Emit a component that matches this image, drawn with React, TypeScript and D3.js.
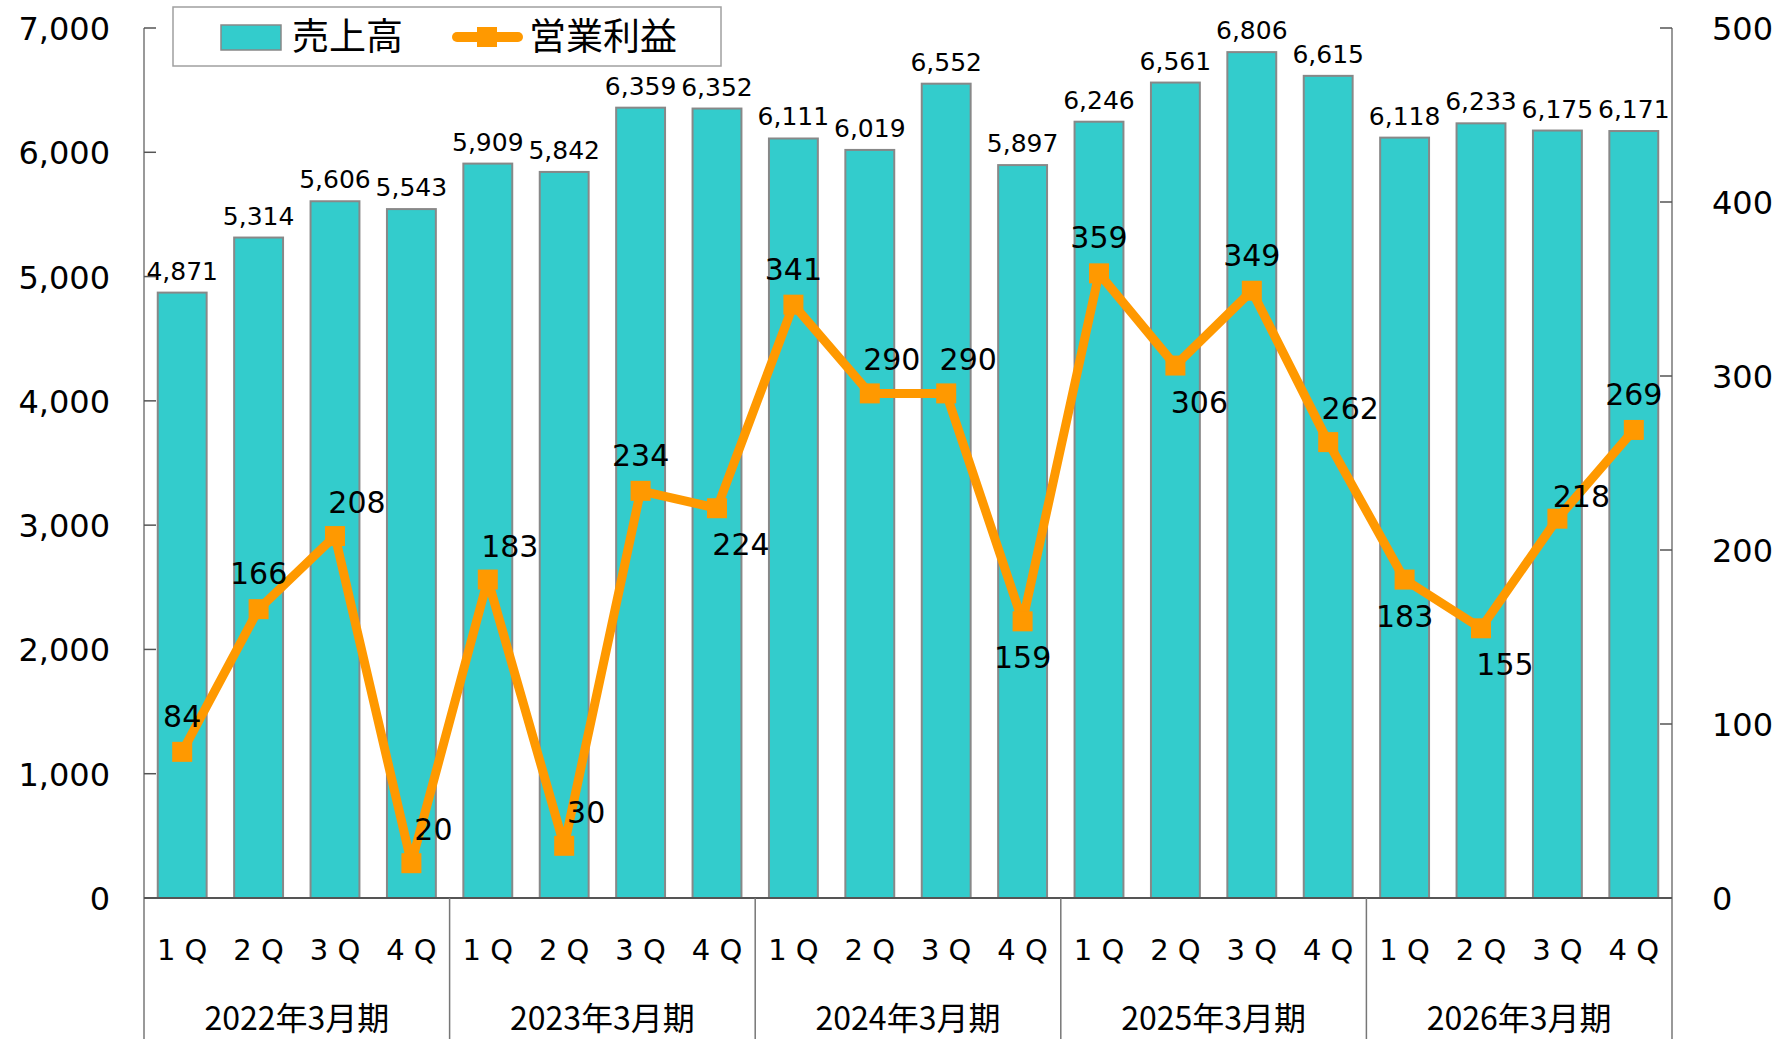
import React from 'react';
import * as d3 from 'd3';

// 四半期ごとの売上高（左軸）と営業利益（右軸）
const years = ['2022年3月期', '2023年3月期', '2024年3月期', '2025年3月期', '2026年3月期'];
const quarters = ['1 Q', '2 Q', '3 Q', '4 Q'];
const sales = [4871, 5314, 5606, 5543, 5909, 5842, 6359, 6352, 6111, 6019, 6552, 5897, 6246, 6561, 6806, 6615, 6118, 6233, 6175, 6171];
const profit = [84, 166, 208, 20, 183, 30, 234, 224, 341, 290, 290, 159, 359, 306, 349, 262, 183, 155, 218, 269];
// where each profit label sits relative to its marker
const profitLabelPlace = ['t', 't', 'tr', 'tr', 'tr', 'tr', 't', 'br', 't', 'tr', 'tr', 'b', 't', 'br', 't', 'tr', 'b', 'br', 'r', 't'];
const leftTicks = [0, 1000, 2000, 3000, 4000, 5000, 6000, 7000];
const rightTicks = [0, 100, 200, 300, 400, 500];

const W = 1775;
const H = 1039;
const left = 144;
const right = 1672;
const top = 28;
const bottom = 898;

const BAR = '#33CCCC';
const LINE = '#FF9900';
const NUM_FONT = 'Verdana, "DejaVu Sans", sans-serif';
const JP_FONT = '"Noto Sans CJK JP", sans-serif';

const keys = years.flatMap((y) => quarters.map((q) => `${y}-${q}`));

const offsets: Record<string, [number, number]> = {
  t: [0, -25],
  tr: [22, -23],
  b: [0, 47],
  br: [24, 47],
  r: [24, -12],
};

export default function App() {
  const x = d3.scaleBand<string>().domain(keys).range([left, right]).paddingInner(0.36).paddingOuter(0.18);
  const yL = d3.scaleLinear().domain([0, 7000]).range([bottom, top]);
  const yR = d3.scaleLinear().domain([0, 500]).range([bottom, top]);
  const fmt = d3.format(',');
  const step = x.step();
  const cx = (i: number) => (x(keys[i]) as number) + x.bandwidth() / 2;

  const line = d3
    .line<number>()
    .x((_, i) => cx(i))
    .y((d) => yR(d));

  return (
    <svg width={W} height={H} style={{ position: 'absolute', left: 0, top: 0, background: '#fff' }}>
      {/* bars */}
      {sales.map((v, i) => (
        <rect
          key={'b' + i}
          x={x(keys[i])}
          y={yL(v)}
          width={x.bandwidth()}
          height={bottom - yL(v)}
          fill={BAR}
          stroke="#888"
          strokeWidth={2}
        />
      ))}
      {/* bar labels */}
      {sales.map((v, i) => (
        <text
          key={'bl' + i}
          x={cx(i)}
          y={yL(v) - 13}
          textAnchor="middle"
          fontFamily={NUM_FONT}
          fontSize={25}
          fill="#000"
        >
          {fmt(v)}
        </text>
      ))}

      {/* axes */}
      <line x1={left} x2={left} y1={top} y2={H} stroke="#777" strokeWidth={1.5} />
      <line x1={right} x2={right} y1={top} y2={H} stroke="#777" strokeWidth={1.5} />
      <line x1={left} x2={right} y1={bottom} y2={bottom} stroke="#555" strokeWidth={2} />
      {leftTicks.map((t) => (
        <g key={'lt' + t}>
          <line x1={left} x2={left + 12} y1={yL(t)} y2={yL(t)} stroke="#555" strokeWidth={1.5} />
          <text x={110} y={yL(t) + 12} textAnchor="end" fontFamily={NUM_FONT} fontSize={32} fill="#000">
            {fmt(t)}
          </text>
        </g>
      ))}
      {rightTicks.map((t) => (
        <g key={'rt' + t}>
          <line x1={right - 12} x2={right} y1={yR(t)} y2={yR(t)} stroke="#555" strokeWidth={1.5} />
          <text x={1712} y={yR(t) + 12} textAnchor="start" fontFamily={NUM_FONT} fontSize={32} fill="#000">
            {t}
          </text>
        </g>
      ))}

      {/* category axis */}
      {keys.map((k, i) => (
        <text
          key={'q' + i}
          x={cx(i)}
          y={960}
          textAnchor="middle"
          fontFamily={NUM_FONT}
          fontSize={29}
          fill="#000"
        >
          {quarters[i % 4]}
        </text>
      ))}
      {years.map((yname, j) => {
        const x0 = left + j * 4 * step;
        return (
          <g key={'y' + j}>
            {j > 0 && <line x1={x0} x2={x0} y1={bottom} y2={H} stroke="#777" strokeWidth={1.5} />}
            <text
              x={x0 + 2 * step}
              y={1030}
              textAnchor="middle"
              fontFamily={JP_FONT}
              fontSize={32}
              fill="#000"
            >
              {yname}
            </text>
          </g>
        );
      })}

      {/* profit line */}
      <path d={line(profit) || ''} fill="none" stroke={LINE} strokeWidth={9} strokeLinejoin="round" />
      {profit.map((v, i) => (
        <rect key={'m' + i} x={cx(i) - 10} y={yR(v) - 10} width={20} height={20} fill={LINE} />
      ))}
      {profit.map((v, i) => {
        const [dx, dy] = offsets[profitLabelPlace[i]];
        return (
          <text
            key={'pl' + i}
            x={cx(i) + dx}
            y={yR(v) + dy}
            textAnchor="middle"
            fontFamily={NUM_FONT}
            fontSize={30}
            fill="#000"
          >
            {v}
          </text>
        );
      })}

      {/* legend */}
      <rect x={173} y={7} width={548} height={59} fill="#fff" stroke="#a0a0a0" strokeWidth={1.5} />
      <rect x={221} y={25} width={60} height={25} fill={BAR} stroke="#888" strokeWidth={1.5} />
      <text x={292} y={50} fontFamily={JP_FONT} fontSize={37} fill="#000">
        売上高
      </text>
      <line x1={457} x2={518} y1={37} y2={37} stroke={LINE} strokeWidth={10} strokeLinecap="round" />
      <rect x={477} y={27} width={20} height={20} fill={LINE} />
      <text x={529} y={50} fontFamily={JP_FONT} fontSize={37} fill="#000">
        営業利益
      </text>
    </svg>
  );
}
